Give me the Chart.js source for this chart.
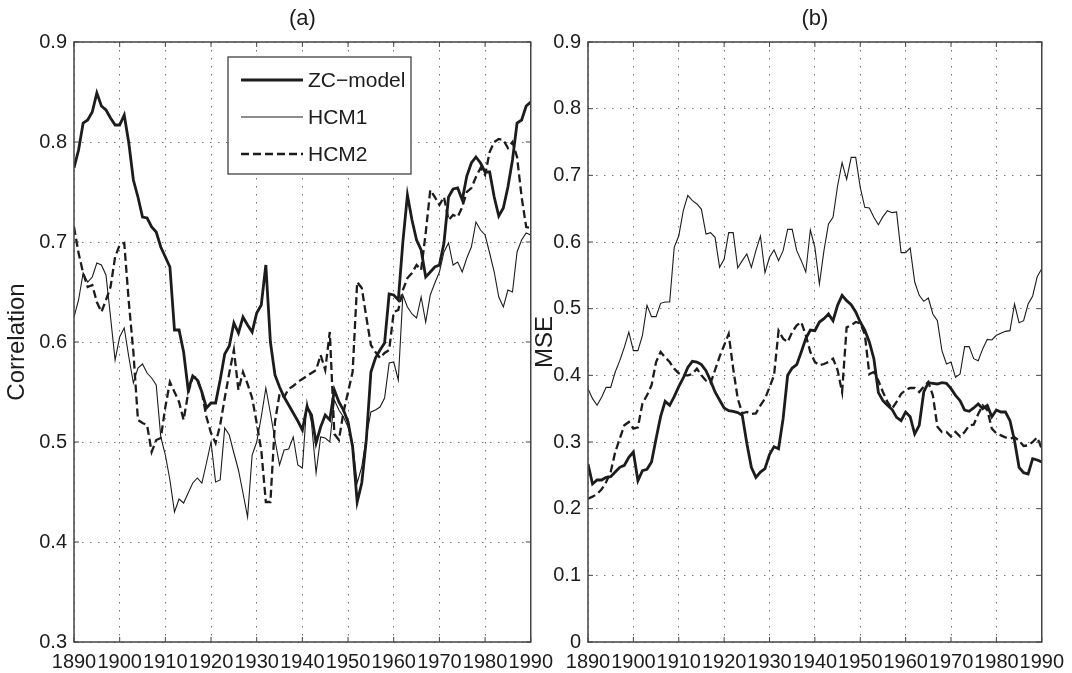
<!DOCTYPE html>
<html>
<head>
<meta charset="utf-8">
<script src="https://cdn.jsdelivr.net/npm/chart.js@4/dist/chart.umd.min.js"></script>
<style>
  html, body { margin: 0; padding: 0; background: #fff; }
  #wrap { position: relative; width: 1072px; height: 673px; }
  canvas { position: absolute; top: 0; }
</style>
</head>
<body>
<div id="wrap">
  <canvas id="corr" width="561" height="673" style="left:0"></canvas>
  <canvas id="mse" width="542" height="673" style="left:530px"></canvas>
</div>
<script>
// Skill of the three models, 1890-1990: (a) correlation, (b) MSE

const years = Array.from({ length: 101 }, (_, i) => 1890 + i);
const xTicks = [1890, 1900, 1910, 1920, 1930, 1940, 1950, 1960, 1970, 1980, 1990];
const seriesNames = ['ZC\u2212model', 'HCM1', 'HCM2'];

// (a) Correlation, one value per year
const zcCorr = [
  0.774, 0.792, 0.819, 0.822, 0.830, 0.849, 0.836, 0.832, 0.824, 0.817, // 1890
  0.817, 0.827, 0.799, 0.762, 0.745, 0.725, 0.724, 0.715, 0.710, 0.695, // 1900
  0.685, 0.675, 0.612, 0.612, 0.590, 0.552, 0.566, 0.562, 0.550, 0.534, // 1910
  0.539, 0.539, 0.562, 0.588, 0.596, 0.619, 0.609, 0.625, 0.617, 0.610, // 1920
  0.629, 0.637, 0.677, 0.600, 0.567, 0.555, 0.545, 0.537, 0.529, 0.521, // 1930
  0.512, 0.535, 0.527, 0.499, 0.515, 0.527, 0.522, 0.552, 0.540, 0.532, // 1940
  0.520, 0.495, 0.440, 0.459, 0.502, 0.570, 0.584, 0.592, 0.599, 0.648, // 1950
  0.647, 0.642, 0.700, 0.747, 0.722, 0.702, 0.692, 0.665, 0.670, 0.675, // 1960
  0.677, 0.699, 0.745, 0.753, 0.754, 0.742, 0.766, 0.779, 0.785, 0.779, // 1970
  0.770, 0.770, 0.745, 0.726, 0.734, 0.755, 0.782, 0.819, 0.822, 0.836, // 1980
  0.840
];
const hcm1Corr = [
  0.625, 0.642, 0.669, 0.660, 0.665, 0.679, 0.677, 0.667, 0.625, 0.582,
  0.605, 0.614, 0.585, 0.559, 0.574, 0.578, 0.569, 0.564, 0.557, 0.505,
  0.487, 0.462, 0.430, 0.443, 0.439, 0.449, 0.459, 0.464, 0.459, 0.479,
  0.500, 0.460, 0.462, 0.514, 0.507, 0.489, 0.472, 0.449, 0.425, 0.487,
  0.500, 0.525, 0.554, 0.529, 0.502, 0.477, 0.492, 0.493, 0.505, 0.477,
  0.474, 0.540, 0.519, 0.469, 0.505, 0.504, 0.500, 0.542, 0.532, 0.525,
  0.515, 0.499, 0.459, 0.475, 0.505, 0.530, 0.532, 0.535, 0.544, 0.579,
  0.580, 0.562, 0.647, 0.635, 0.628, 0.624, 0.645, 0.620, 0.647, 0.659,
  0.670, 0.690, 0.699, 0.677, 0.680, 0.670, 0.684, 0.695, 0.720, 0.712,
  0.707, 0.689, 0.670, 0.645, 0.635, 0.652, 0.650, 0.690, 0.702, 0.709,
  0.707
];
const hcm2Corr = [
  0.715, 0.689, 0.669, 0.655, 0.657, 0.640, 0.630, 0.642, 0.655, 0.685,
  0.697, 0.699, 0.640, 0.590, 0.522, 0.519, 0.517, 0.490, 0.502, 0.504,
  0.535, 0.560, 0.550, 0.540, 0.522, 0.549, 0.565, 0.564, 0.549, 0.525,
  0.509, 0.499, 0.517, 0.544, 0.569, 0.592, 0.552, 0.570, 0.558, 0.544,
  0.519, 0.492, 0.440, 0.440, 0.520, 0.548, 0.545, 0.553, 0.556, 0.560,
  0.563, 0.566, 0.569, 0.572, 0.587, 0.572, 0.610, 0.508, 0.502, 0.530,
  0.550, 0.570, 0.660, 0.654, 0.625, 0.597, 0.590, 0.584, 0.589, 0.592,
  0.630, 0.632, 0.652, 0.664, 0.669, 0.677, 0.672, 0.709, 0.752, 0.745,
  0.737, 0.745, 0.722, 0.727, 0.725, 0.735, 0.750, 0.754, 0.765, 0.774,
  0.767, 0.790, 0.800, 0.803, 0.802, 0.794, 0.800, 0.785, 0.745, 0.715,
  0.714
];

// (b) MSE, one value per year
const zcMse = [
  0.267, 0.237, 0.243, 0.243, 0.247, 0.248, 0.255, 0.262, 0.265, 0.277,
  0.285, 0.242, 0.257, 0.259, 0.270, 0.305, 0.338, 0.361, 0.355, 0.368,
  0.383, 0.396, 0.412, 0.421, 0.420, 0.416, 0.407, 0.392, 0.375, 0.363,
  0.351, 0.347, 0.346, 0.344, 0.340, 0.298, 0.262, 0.247, 0.255, 0.260,
  0.281, 0.293, 0.290, 0.335, 0.400, 0.411, 0.416, 0.435, 0.455, 0.468,
  0.467, 0.480, 0.485, 0.492, 0.482, 0.505, 0.520, 0.512, 0.506, 0.495,
  0.480, 0.468, 0.450, 0.425, 0.374, 0.362, 0.355, 0.349, 0.337, 0.332,
  0.345, 0.338, 0.312, 0.325, 0.375, 0.389, 0.388, 0.387, 0.389, 0.388,
  0.380, 0.370, 0.362, 0.348, 0.346, 0.351, 0.357, 0.350, 0.355, 0.338,
  0.348, 0.345, 0.345, 0.332, 0.302, 0.262, 0.254, 0.252, 0.275, 0.273,
  0.270
];
const hcm1Mse = [
  0.380, 0.365, 0.355, 0.367, 0.382, 0.382, 0.405, 0.422, 0.442, 0.465,
  0.437, 0.437, 0.460, 0.505, 0.488, 0.488, 0.508, 0.510, 0.510, 0.592,
  0.609, 0.647, 0.670, 0.662, 0.657, 0.649, 0.612, 0.614, 0.607, 0.562,
  0.574, 0.614, 0.614, 0.561, 0.572, 0.582, 0.562, 0.587, 0.609, 0.554,
  0.577, 0.588, 0.572, 0.587, 0.619, 0.619, 0.587, 0.572, 0.555, 0.618,
  0.592, 0.537, 0.587, 0.627, 0.637, 0.684, 0.719, 0.694, 0.727, 0.727,
  0.682, 0.652, 0.651, 0.637, 0.626, 0.638, 0.647, 0.644, 0.645, 0.584,
  0.584, 0.591, 0.540, 0.520, 0.511, 0.516, 0.492, 0.482, 0.437, 0.417,
  0.420, 0.397, 0.402, 0.443, 0.443, 0.425, 0.422, 0.440, 0.454, 0.453,
  0.460, 0.463, 0.466, 0.467, 0.507, 0.479, 0.482, 0.507, 0.519, 0.548,
  0.560
];
const hcm2Mse = [
  0.215, 0.218, 0.222, 0.229, 0.240, 0.255, 0.285, 0.305, 0.325, 0.330,
  0.320, 0.322, 0.358, 0.370, 0.385, 0.420, 0.435, 0.427, 0.420, 0.410,
  0.403, 0.400, 0.400, 0.402, 0.410, 0.400, 0.392, 0.388, 0.408, 0.428,
  0.445, 0.462, 0.410, 0.365, 0.343, 0.345, 0.342, 0.343, 0.355, 0.365,
  0.382, 0.400, 0.467, 0.455, 0.450, 0.465, 0.475, 0.480, 0.460, 0.435,
  0.420, 0.415, 0.417, 0.420, 0.425, 0.408, 0.375, 0.472, 0.475, 0.480,
  0.478, 0.462, 0.402, 0.405, 0.392, 0.375, 0.360, 0.350, 0.360, 0.372,
  0.378, 0.381, 0.381, 0.375, 0.383, 0.390, 0.370, 0.323, 0.315, 0.315,
  0.308, 0.315, 0.308, 0.315, 0.325, 0.326, 0.342, 0.355, 0.348, 0.320,
  0.313, 0.310, 0.307, 0.305, 0.307, 0.302, 0.294, 0.295, 0.300, 0.307,
  0.290
];

const FONT = "'Liberation Sans', Arial, Helvetica, sans-serif";
const INK = '#1c1c1c';

// line looks: thick solid, thin solid, dashed
const styles = [
  { borderWidth: 2.8, borderDash: [] },
  { borderWidth: 1.1, borderDash: [] },
  { borderWidth: 2.3, borderDash: [8, 4] }
];

function makeDatasets(lists) {
  return lists.map((vals, i) => ({
    label: seriesNames[i],
    data: years.map((yr, j) => ({ x: yr, y: vals[j] })),
    borderColor: INK,
    borderWidth: styles[i].borderWidth,
    borderDash: styles[i].borderDash,
    pointRadius: 0,
    tension: 0,
    fill: false
  }));
}

// box round the plot plus the small inward ticks
const framePlugin = {
  id: 'frame',
  afterDraw(chart) {
    const { ctx, chartArea: a, scales } = chart;
    ctx.save();
    ctx.strokeStyle = '#444';
    ctx.lineWidth = 1;
    ctx.beginPath();
    scales.x.ticks.forEach(t => {
      const px = scales.x.getPixelForValue(t.value);
      ctx.moveTo(px, a.bottom); ctx.lineTo(px, a.bottom - 5);
      ctx.moveTo(px, a.top); ctx.lineTo(px, a.top + 5);
    });
    scales.y.ticks.forEach(t => {
      const py = scales.y.getPixelForValue(t.value);
      ctx.moveTo(a.left, py); ctx.lineTo(a.left + 5, py);
      ctx.moveTo(a.right, py); ctx.lineTo(a.right - 5, py);
    });
    ctx.stroke();
    ctx.lineWidth = 1.5;
    ctx.strokeRect(a.left, a.top, a.right - a.left, a.bottom - a.top);
    ctx.restore();
  }
};

// boxed legend inside panel (a)
const boxLegend = {
  id: 'boxLegend',
  afterDraw(chart) {
    const { ctx, chartArea: a } = chart;
    const x0 = a.left + 154, y0 = a.top + 15, w = 183, h = 117;
    ctx.save();
    ctx.fillStyle = '#fff';
    ctx.fillRect(x0, y0, w, h);
    ctx.strokeStyle = '#333';
    ctx.lineWidth = 1.2;
    ctx.strokeRect(x0, y0, w, h);
    chart.data.datasets.forEach((ds, i) => {
      const y = y0 + 23 + i * 37;
      ctx.strokeStyle = ds.borderColor;
      ctx.lineWidth = ds.borderWidth;
      ctx.setLineDash(ds.borderDash || []);
      ctx.beginPath();
      ctx.moveTo(x0 + 13, y);
      ctx.lineTo(x0 + 75, y);
      ctx.stroke();
      ctx.setLineDash([]);
      ctx.fillStyle = INK;
      ctx.font = '21px ' + FONT;
      ctx.textBaseline = 'middle';
      ctx.fillText(ds.label, x0 + 80, y + 1);
    });
    ctx.restore();
  }
};

function panel(canvasId, opts) {
  return new Chart(document.getElementById(canvasId), {
    type: 'line',
    data: { datasets: makeDatasets(opts.lists) },
    options: {
      responsive: false,
      animation: false,
      events: [],
      layout: { padding: { top: 0, right: opts.padRight, left: 0, bottom: 0 } },
      plugins: {
        legend: { display: false },
        tooltip: { enabled: false },
        title: {
          display: true,
          text: opts.title,
          fullSize: false,
          color: INK,
          font: { family: FONT, size: 22, weight: 'normal' },
          padding: { top: 6, bottom: 9.6 }
        }
      },
      scales: {
        x: {
          type: 'linear',
          min: xTicks[0],
          max: xTicks[xTicks.length - 1],
          afterBuildTicks: s => { s.ticks = xTicks.map(v => ({ value: v })); },
          afterFit: s => { s.height = 31; },
          ticks: {
            autoSkip: false,
            maxRotation: 0,
            padding: 8,
            color: INK,
            font: { family: FONT, size: 20 },
            callback: v => String(v)
          },
          grid: { color: 'rgba(0,0,0,0.55)', lineWidth: 1, drawTicks: false },
          border: { display: false, dash: [1.5, 6.5] }
        },
        y: {
          min: opts.yMin,
          max: 0.9,
          afterBuildTicks: s => { s.ticks = opts.yTicks.map(v => ({ value: v })); },
          afterFit: s => { s.width = opts.yWidth; },
          ticks: {
            padding: 7,
            color: INK,
            font: { family: FONT, size: 20 },
            callback: v => (v === 0 ? '0' : Number(v).toFixed(1))
          },
          title: {
            display: true,
            text: opts.yTitle,
            color: INK,
            font: { family: FONT, size: 24 },
            padding: { top: opts.titlePad, bottom: 0 }
          },
          grid: { color: 'rgba(0,0,0,0.55)', lineWidth: 1, drawTicks: false },
          border: { display: false, dash: [1.5, 6.5] }
        }
      }
    },
    plugins: opts.legend ? [framePlugin, boxLegend] : [framePlugin]
  });
}

panel('corr', {
  title: '(a)',
  yTitle: 'Correlation',
  lists: [zcCorr, hcm1Corr, hcm2Corr],
  yMin: 0.3,
  yTicks: [0.3, 0.4, 0.5, 0.6, 0.7, 0.8, 0.9],
  yWidth: 74,
  padRight: 30,
  titlePad: 3,
  legend: true
});

panel('mse', {
  title: '(b)',
  yTitle: 'MSE',
  lists: [zcMse, hcm1Mse, hcm2Mse],
  yMin: 0,
  yTicks: [0, 0.1, 0.2, 0.3, 0.4, 0.5, 0.6, 0.7, 0.8, 0.9],
  yWidth: 58,
  padRight: 26,
  titlePad: 1,
  legend: false
});
</script>
</body>
</html>
